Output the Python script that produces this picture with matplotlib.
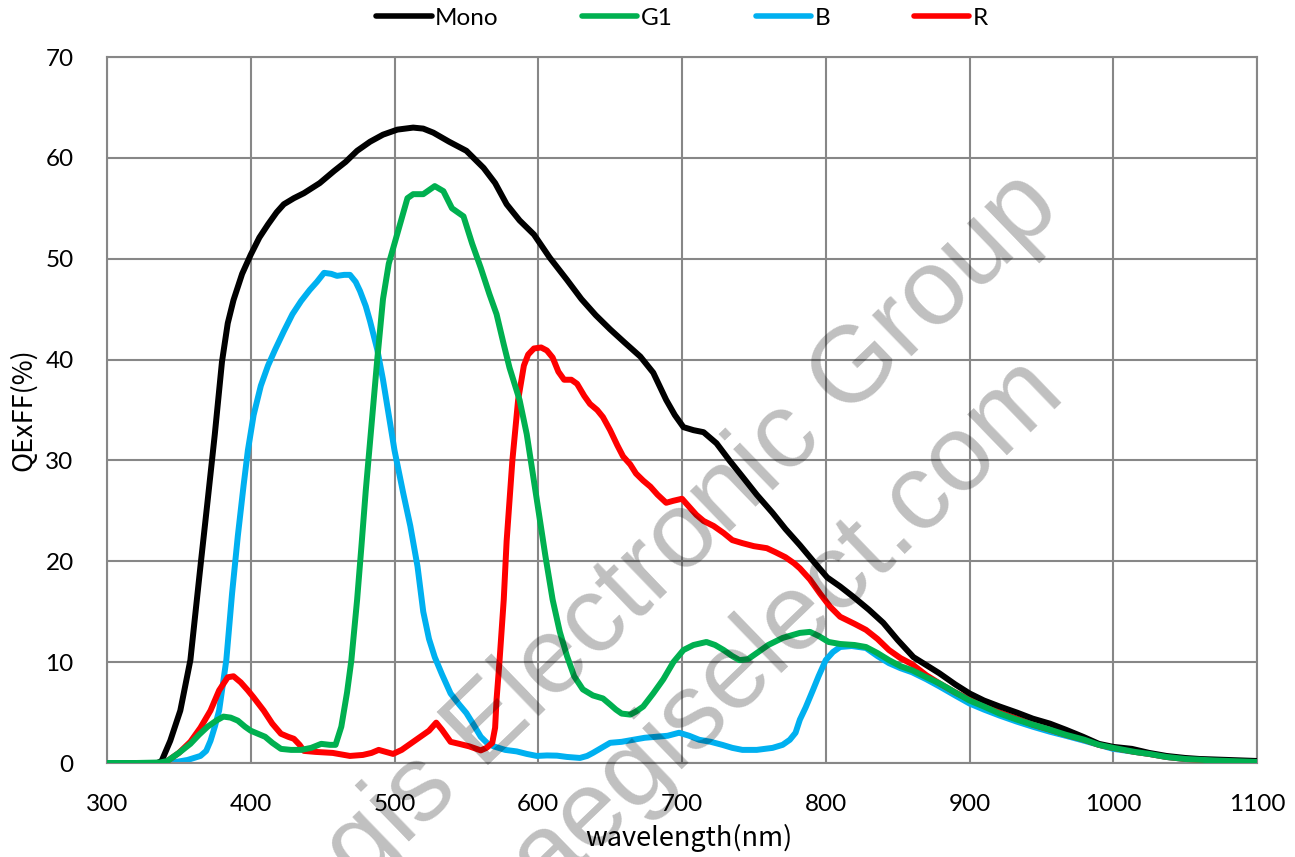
import matplotlib
matplotlib.use("Agg")
import matplotlib.pyplot as plt

# Wavelength (nm) / QExFF (%)
mono_nm = [300, 320, 335, 338, 344, 351, 358, 365, 370, 375, 380, 384, 388, 394, 400, 406, 412, 418,
           423, 430, 437, 448, 458, 466, 474, 483, 492, 502, 513, 520, 527, 538, 550, 562, 570, 578,
           587, 597, 608, 620, 630, 640, 650, 660, 671, 680, 689, 695, 701, 708, 715, 724, 733, 742,
           752, 763, 772, 782, 792, 801, 810, 819, 830, 840, 850, 861, 870, 879, 890, 900, 910, 921,
           933, 944, 956, 967, 979, 990, 1000, 1013, 1025, 1037, 1050, 1060, 1080, 1100]
mono_qe = [0, 0, 0, 0.2, 2.2, 5.2, 10.2, 19.5, 26, 32.6, 39.8, 43.6, 45.9, 48.5, 50.4, 52.1, 53.4,
           54.6, 55.4, 56.0, 56.5, 57.5, 58.7, 59.6, 60.7, 61.6, 62.3, 62.8, 63.0, 62.9, 62.5, 61.6,
           60.7, 59.0, 57.5, 55.4, 53.8, 52.4, 50.1, 47.9, 46.0, 44.4, 43.0, 41.7, 40.3, 38.7, 36.0,
           34.5, 33.3, 33.0, 32.8, 31.7, 30.0, 28.4, 26.6, 24.8, 23.2, 21.6, 19.9, 18.4, 17.5, 16.5,
           15.2, 13.9, 12.2, 10.5, 9.7, 8.9, 7.8, 6.9, 6.2, 5.6, 5.0, 4.4, 3.9, 3.3, 2.6, 1.9, 1.6,
           1.4, 1.0, 0.7, 0.5, 0.4, 0.3, 0.2]

g1_nm = [300, 320, 337, 342, 350, 358, 364, 370, 376, 381, 386, 391, 396, 400, 405, 410, 415, 421,
         428, 435, 442, 449, 455, 459, 463, 467, 470, 474, 477, 480, 484, 488, 492, 496, 500, 505,
         509, 513, 520, 528, 534, 540, 548, 554, 560, 566, 571, 576, 580, 587, 592, 599, 605, 610,
         615, 620, 625, 631, 638, 645, 650, 654, 658, 664, 668, 673, 680, 687, 694, 701, 708, 717,
         723, 729, 735, 740, 746, 752, 760, 770, 782, 789, 795, 802, 810, 820, 828, 836, 844, 852,
         860, 870, 879, 890, 900, 910, 921, 933, 944, 956, 967, 980, 990, 1000, 1015, 1025, 1037,
         1050, 1070, 1100]
g1_qe = [0, 0, 0.05, 0.2, 1.0, 1.9, 2.8, 3.6, 4.2, 4.6, 4.5, 4.2, 3.6, 3.2, 2.9, 2.6, 2.0, 1.4,
         1.3, 1.3, 1.5, 1.9, 1.8, 1.8, 3.6, 7.0, 10.2, 16.2, 21.5, 27.0, 33.5, 40.0, 46.0, 49.5,
         51.5, 54.0, 56.0, 56.4, 56.4, 57.2, 56.7, 55.0, 54.2, 51.5, 49.1, 46.5, 44.5, 41.5, 39.2,
         36.0, 32.6, 26.1, 20.5, 16.2, 13.0, 10.6, 8.6, 7.3, 6.7, 6.4, 5.8, 5.3, 4.9, 4.8, 5.1, 5.6,
         6.9, 8.3, 10.0, 11.2, 11.7, 12.0, 11.7, 11.2, 10.6, 10.2, 10.3, 10.9, 11.7, 12.4, 12.9,
         13.0, 12.6, 12.0, 11.8, 11.7, 11.5, 10.9, 10.2, 9.6, 9.2, 8.5, 7.9, 7.0, 6.2, 5.6, 4.9,
         4.3, 3.8, 3.3, 2.8, 2.3, 1.8, 1.5, 1.1, 0.9, 0.6, 0.4, 0.25, 0.1]

b_nm = [300, 340, 348, 356, 365, 369, 372, 375, 378, 383, 387, 391, 395, 398, 402, 407, 412, 417,
        423, 429, 435, 441, 446, 451, 456, 460, 465, 469, 473, 476, 480, 483, 488, 492, 496, 500,
        506, 511, 516, 520, 524, 528, 533, 539, 545, 550, 555, 560, 565, 569, 577, 585, 592, 599,
        606, 613, 620, 629, 634, 638, 644, 650, 658, 666, 674, 682, 690, 698, 705, 712, 720, 728,
        735, 742, 752, 763, 770, 775, 779, 782, 786, 791, 795, 800, 805, 810, 818, 828, 836, 844,
        852, 860, 870, 879, 890, 900, 910, 921, 933, 944, 956, 967, 980, 990, 1000, 1015, 1025,
        1037, 1050, 1070, 1100]
b_qe = [0, 0, 0.1, 0.3, 0.7, 1.2, 2.2, 3.6, 5.2, 10.2, 16.8, 22.5, 27.5, 31.0, 34.5, 37.4, 39.4,
        41.0, 42.8, 44.5, 45.8, 46.9, 47.7, 48.6, 48.5, 48.3, 48.4, 48.4, 47.7, 46.8, 45.3, 43.8,
        41.0, 38.0, 34.5, 31.0, 26.8, 23.5, 19.5, 15.0, 12.3, 10.5, 8.8, 6.9, 5.8, 4.95, 3.8, 2.6,
        1.9, 1.65, 1.3, 1.15, 0.9, 0.7, 0.75, 0.73, 0.6, 0.5, 0.7, 1.0, 1.5, 2.0, 2.1, 2.3, 2.5,
        2.6, 2.7, 3.0, 2.7, 2.3, 2.1, 1.8, 1.5, 1.3, 1.3, 1.5, 1.8, 2.3, 3.0, 4.3, 5.5, 7.2, 8.6,
        10.2, 11.0, 11.5, 11.6, 11.4, 10.6, 9.9, 9.4, 9.0, 8.3, 7.6, 6.7, 5.9, 5.3, 4.7, 4.1, 3.6,
        3.1, 2.7, 2.2, 1.8, 1.4, 1.1, 0.9, 0.6, 0.4, 0.25, 0.1]

r_nm = [300, 340, 342, 350, 358, 365, 372, 378, 384, 388, 393, 398, 402, 409, 415, 421, 426, 430,
        434, 437, 445, 457, 465, 469, 478, 484, 489, 494, 499, 505, 512, 518, 524, 529, 533, 539,
        545, 552, 560, 564, 568, 570, 571, 573, 576, 578, 582, 586, 590, 593, 597, 602, 606, 610,
        614, 618, 623, 627, 632, 636, 641, 645, 650, 655, 659, 664, 668, 673, 678, 683, 689, 694,
        700, 705, 710, 715, 722, 729, 735, 742, 750, 759, 765, 772, 778, 782, 789, 796, 803, 810,
        820, 828, 836, 844, 852, 860, 870, 879, 890, 900, 910, 921, 933, 944, 956, 967, 980, 990,
        1000, 1015, 1025, 1037, 1050, 1070, 1100]
r_qe = [0, 0, 0.2, 1.0, 2.1, 3.5, 5.2, 7.2, 8.5, 8.6, 8.0, 7.2, 6.5, 5.2, 3.9, 2.9, 2.6, 2.4, 1.8,
        1.2, 1.1, 1.0, 0.8, 0.7, 0.8, 1.0, 1.3, 1.1, 0.9, 1.3, 2.0, 2.6, 3.2, 4.0, 3.3, 2.1, 1.9,
        1.65, 1.25, 1.5, 2.0, 3.5, 6.3, 10.0, 16.2, 22.0, 30.0, 36.0, 39.4, 40.5, 41.1, 41.2, 40.9,
        40.2, 38.8, 38.0, 38.0, 37.6, 36.4, 35.6, 35.0, 34.3, 33.0, 31.5, 30.4, 29.6, 28.7, 28.0,
        27.4, 26.6, 25.8, 26.0, 26.2, 25.4, 24.6, 24.0, 23.5, 22.8, 22.1, 21.8, 21.5, 21.3, 20.9,
        20.4, 19.8, 19.3, 18.2, 16.8, 15.5, 14.5, 13.8, 13.2, 12.3, 11.2, 10.4, 9.8, 8.7, 7.9, 7.0,
        6.3, 5.7, 5.0, 4.4, 3.8, 3.3, 2.8, 2.3, 1.8, 1.5, 1.1, 0.9, 0.6, 0.4, 0.25, 0.1]

x_ticks = [300, 400, 500, 600, 700, 800, 900, 1000, 1100]
y_ticks = [0, 10, 20, 30, 40, 50, 60, 70]

plt.rcParams['font.family'] = ['Lato', 'DejaVu Sans']

fig = plt.figure(figsize=(12.95, 8.57), dpi=100)
ax = fig.add_axes([107 / 1295, 94 / 857, 1150 / 1295, 706 / 857])

lw = 4.3
style = dict(lw=lw, solid_joinstyle='round', solid_capstyle='round')
ax.plot(mono_nm, mono_qe, color='#000000', label='Mono', zorder=4, **style)
ax.plot(g1_nm, g1_qe, color='#00B050', label='G1', zorder=5, **style)
ax.plot(b_nm, b_qe, color='#00B0F0', label='B', zorder=2, **style)
ax.plot(r_nm, r_qe, color='#FF0000', label='R', zorder=3, **style)

ax.set_xlim(300, 1100)
ax.set_ylim(0, 70)
ax.set_xticks(x_ticks)
ax.set_yticks(y_ticks)
ax.tick_params(length=0, labelsize=17.5, pad=24)
ax.tick_params(axis='x', pad=22)
ax.grid(True, color='#878787', lw=1.5)
ax.set_axisbelow(True)
for s in ax.spines.values():
    s.set_color('#878787')
    s.set_linewidth(1.5)

cjk = ['Noto Sans CJK KR', 'DejaVu Sans']
ax.set_xlabel('wavelength(nm)', fontsize=19.5, family=cjk)
ax.xaxis.set_label_coords(0.506, -0.087)
ax.set_ylabel('QExFF(%)', fontsize=19.5, family=cjk, labelpad=6)

# legend across the top
leg = ax.legend(loc='center', bbox_to_anchor=(682 / 1295, 1 - 18 / 857),
                bbox_transform=fig.transFigure, ncol=4, frameon=False, fontsize=17.5,
                handlelength=2.3, handletextpad=0.15, columnspacing=3.4)
for h in leg.get_lines():
    h.set_linewidth(4)
    h.set_solid_capstyle('round')

# watermark
wm = dict(fontsize=78, family='Liberation Sans', color='black', alpha=0.25, rotation=44,
          rotation_mode='anchor', ha='center', va='baseline', zorder=10)
fig.text(664 / 1295, 1 - 595 / 857, 'Aegis Electronic Group', **wm)
fig.text(806 / 1295, 1 - 645 / 857, 'aegiselect.com', **wm)

fig.savefig('out.png', dpi=100)
